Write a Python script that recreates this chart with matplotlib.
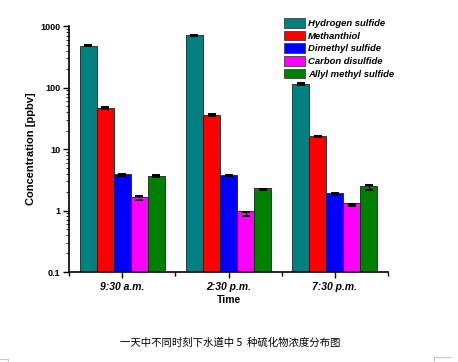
import matplotlib
matplotlib.use("Agg")
import matplotlib.pyplot as plt
import numpy as np
from matplotlib.patches import Patch
from matplotlib.lines import Line2D
from matplotlib.ticker import LogLocator, FixedLocator, NullFormatter

times = ["9:30 a.m.", "2:30 p.m.", "7:30 p.m."]
compounds = ["Hydrogen sulfide", "Methanthiol", "Dimethyl sulfide",
             "Carbon disulfide", "Allyl methyl sulfide"]
colors = ["#008080", "#ff0000", "#0000ff", "#ff00ff", "#008000"]

h2s = [480, 714, 115]
mt = [46.4, 35.7, 16.1]
dms = [3.78, 3.7, 1.85]
cs2 = [1.58, 0.88, 1.23]
ams = [3.6, 2.2, 2.38]

h2s_err = [12, 12, 3]
mt_err = [1.0, 1.0, 0.5]
dms_err = [0.1, 0.1, 0.06]
cs2_err = [0.12, 0.08, 0.06]
ams_err = [0.15, 0.08, 0.25]

series = [h2s, mt, dms, cs2, ams]
errors = [h2s_err, mt_err, dms_err, cs2_err, ams_err]

fig = plt.figure(figsize=(4.58, 3.62), dpi=100)
ax = fig.add_axes([0.1507, 0.2486, 0.6965, 0.6794])

x = np.arange(len(times))
w = 0.16
for i, (vals, errs) in enumerate(zip(series, errors)):
    ax.bar(x + (i - 2) * w, vals, width=w, color=colors[i], edgecolor="#202020",
           linewidth=0.6, bottom=0.1, zorder=2)
    ax.errorbar(x + (i - 2) * w, vals, yerr=errs, fmt="none", ecolor="black",
                elinewidth=0.8, capsize=3, capthick=1.4, zorder=3)

ax.set_yscale("log")
ax.set_ylim(0.1, 1000)
ax.set_xlim(-0.5, 2.5)
ax.set_yticks([0.1, 1, 10, 100, 1000])
ax.set_yticklabels(["0.1", "1", "10", "100", "1000"])
ax.yaxis.set_minor_locator(LogLocator(base=10, subs=np.arange(2, 10), numticks=20))
ax.yaxis.set_minor_formatter(NullFormatter())
ax.set_xticks(x)
ax.set_xticklabels(times)
ax.xaxis.set_minor_locator(FixedLocator([-0.5, 0.5, 1.5, 2.5]))

for lab in ax.get_yticklabels():
    lab.set_fontfamily("Liberation Sans")
    lab.set_fontweight("bold")
    lab.set_fontsize(6.5)
for lab in ax.get_xticklabels():
    lab.set_fontfamily("Liberation Sans")
    lab.set_fontweight("bold")
    lab.set_fontstyle("italic")
    lab.set_fontsize(7.5)

ax.tick_params(axis="y", which="major", direction="out", length=4, width=1, pad=2)
ax.tick_params(axis="y", which="minor", direction="out", length=2, width=0.6)
ax.tick_params(axis="x", which="major", direction="out", length=4, width=1, pad=3)
ax.tick_params(axis="x", which="minor", direction="out", length=3, width=1)

ax.spines["top"].set_visible(False)
ax.spines["right"].set_visible(False)
ax.spines["left"].set_linewidth(1.2)
ax.spines["bottom"].set_linewidth(1.2)

ax.set_ylabel("Concentration [ppbv]", fontfamily="Liberation Sans",
              fontweight="bold", fontsize=8, labelpad=3)
ax.set_xlabel("Time", fontfamily="Liberation Sans", fontweight="bold",
              fontsize=7.5, labelpad=2)

handles = [Patch(facecolor=c, edgecolor="#404040", linewidth=0.6) for c in colors]
leg = ax.legend(handles, compounds, loc="upper left",
                bbox_to_anchor=(284 / 458, 1 - 18 / 362),
                bbox_transform=fig.transFigure, frameon=False,
                prop={"family": "Liberation Sans", "weight": "bold",
                      "style": "italic", "size": 6.8},
                handlelength=2.2, handleheight=1.2, handletextpad=0.35,
                labelspacing=0.28, borderpad=0, borderaxespad=0)

fig.text(230 / 458, 1 - 343 / 362, "一天中不同时刻下水道中 5  种硫化物浓度分布图",
         ha="center", va="center", fontsize=7.5,
         fontfamily=["Noto Sans CJK SC", "DejaVu Sans"])

# faint frame corners at the bottom
grey = "#c8c8c8"
fig.add_artist(Line2D([0, 8 / 458], [1 - 359 / 362] * 2, color=grey, lw=0.8))
fig.add_artist(Line2D([8 / 458] * 2, [1 - 359 / 362, 0], color=grey, lw=0.8))
fig.add_artist(Line2D([434 / 458, 451 / 458], [1 - 357 / 362] * 2, color=grey, lw=0.8))
fig.add_artist(Line2D([434 / 458] * 2, [1 - 357 / 362, 0], color=grey, lw=0.8))

fig.savefig("out.png", dpi=100)
